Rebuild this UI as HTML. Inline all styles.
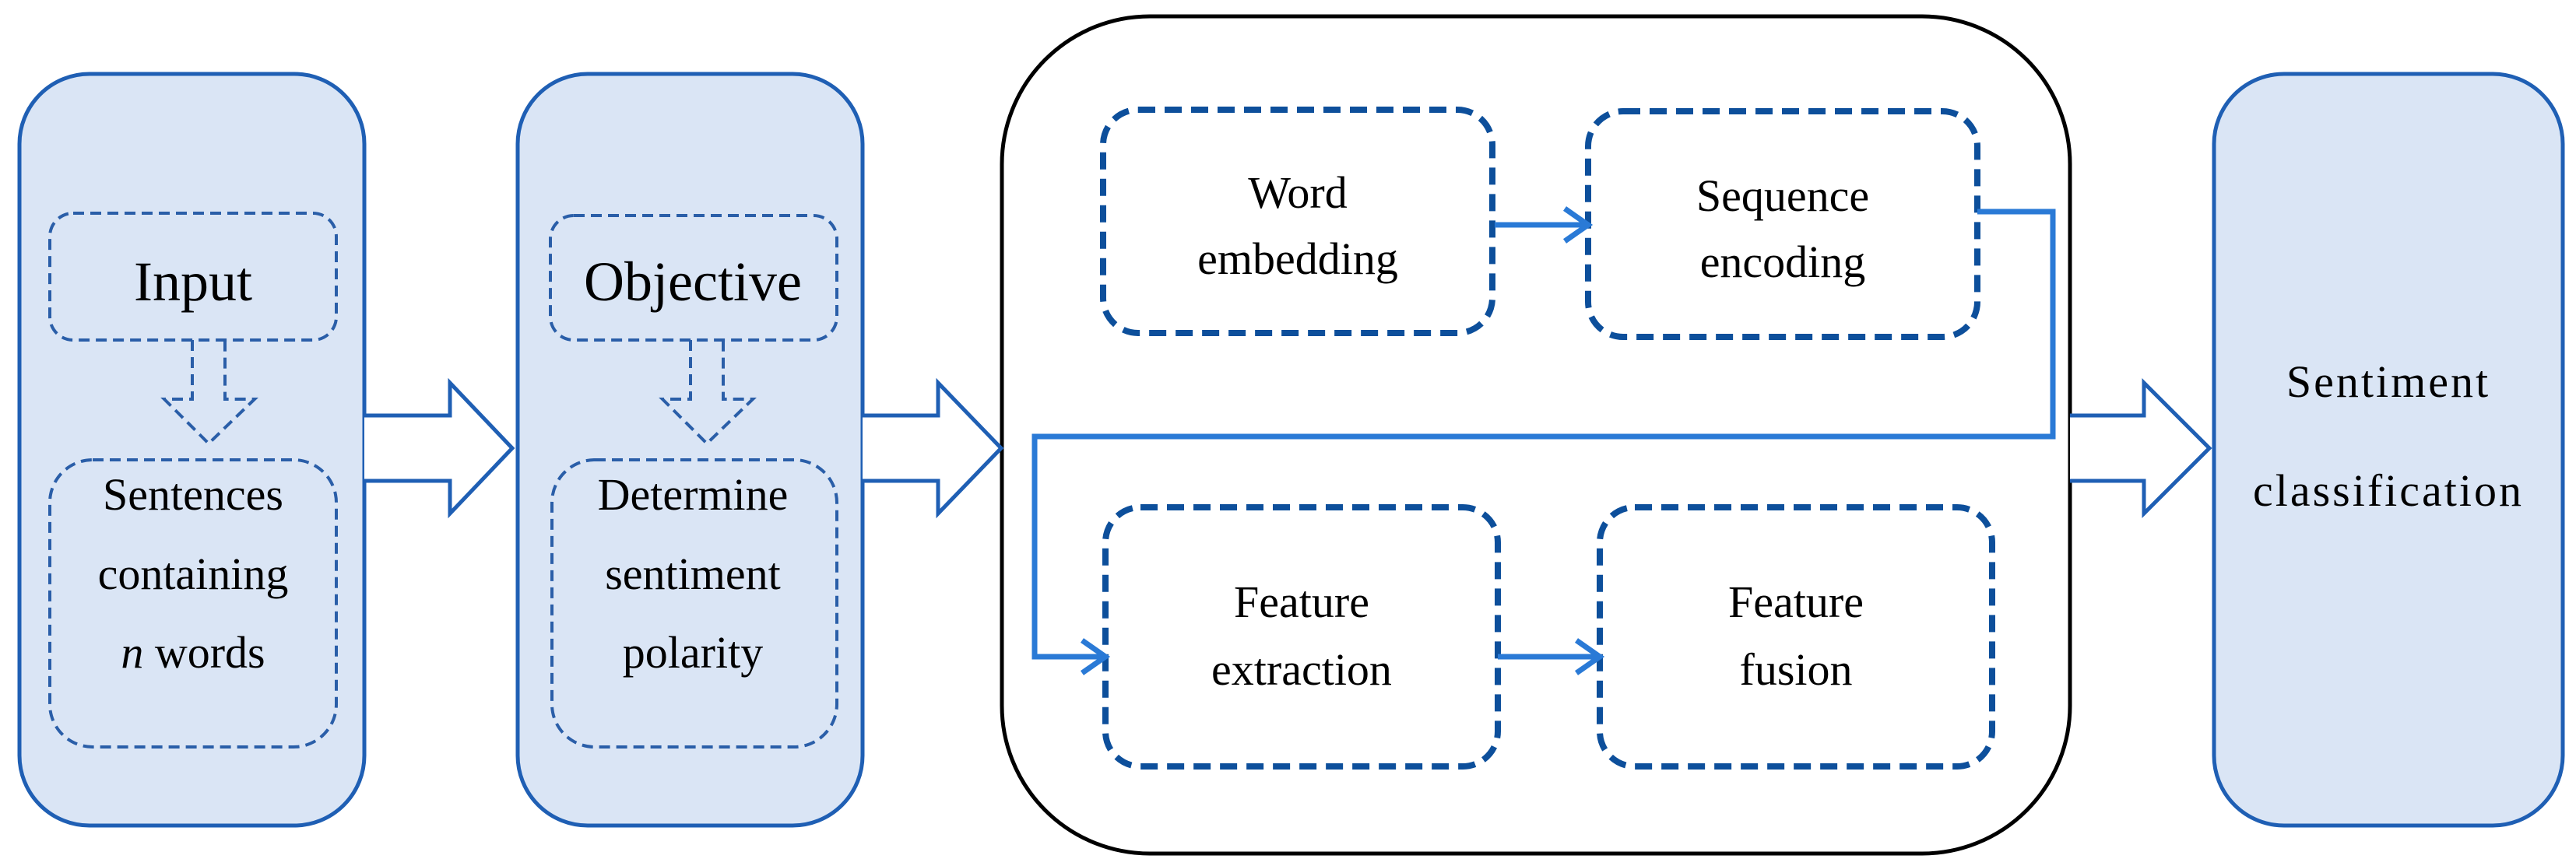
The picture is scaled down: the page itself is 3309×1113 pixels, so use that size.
<!DOCTYPE html>
<html><head><meta charset="utf-8"><style>
html,body{margin:0;padding:0;background:#fff}
svg{display:block}
text{font-family:"Liberation Serif","Times New Roman","DejaVu Serif",serif;fill:#000;text-anchor:middle}
</style></head><body>
<svg width="3309" height="1113" viewBox="0 0 3309 1113" xmlns="http://www.w3.org/2000/svg" font-family="Liberation Serif, Times New Roman, DejaVu Serif, serif">
<rect x="25" y="95" width="443" height="966" rx="90" fill="#dae5f5" stroke="#1f5fb4" stroke-width="5"/>
<rect x="665" y="95" width="443" height="966" rx="90" fill="#dae5f5" stroke="#1f5fb4" stroke-width="5"/>
<rect x="2844" y="95" width="448" height="966" rx="90" fill="#dae5f5" stroke="#1f5fb4" stroke-width="5"/>
<rect x="1287" y="21" width="1372" height="1076" rx="190" fill="#fff" stroke="#000" stroke-width="5"/>

<g fill="#fff" stroke="#1f5fb4" stroke-width="5">
<path d="M468 534 H578 V492 L658 576 L578 660 V618 H468"/>
<path d="M1108 534 H1205 V492 L1286 576 L1205 660 V618 H1108"/>
<path d="M2659 534 H2754 V492 L2838 576 L2754 660 V618 H2659"/>
</g>

<g fill="none" stroke="#2a5ea8" stroke-width="4" stroke-dasharray="14 8">
<rect x="64" y="274" width="368" height="163" rx="30"/>
<rect x="64" y="591" width="368" height="369" rx="55"/>
<rect x="707" y="277" width="368" height="160" rx="30"/>
<rect x="709" y="591" width="366" height="369" rx="55"/>
<path d="M247 437 V513 H211 L268 570 L327 513 H289 V437"/>
<path d="M887 437 V513 H851 L908 570 L967 513 H929 V437"/>
</g>

<g fill="#fff" stroke="#0d4f9b" stroke-width="8" stroke-dasharray="22 12">
<rect x="1417" y="141" width="500" height="287" rx="45"/>
<rect x="2040" y="143" width="500" height="290" rx="45"/>
<rect x="1420" y="652" width="504" height="333" rx="45"/>
<rect x="2055" y="652" width="504" height="333" rx="45"/>
</g>

<g fill="none" stroke="#2a7ad6" stroke-width="7">
<path d="M1920 289 H2040"/>
<path d="M2010 268 L2040 289 L2010 310"/>
<path d="M2540 272 H2637 V561 H1329 V844 H1420"/>
<path d="M1390 823 L1420 844 L1390 865"/>
<path d="M1924 844 H2055"/>
<path d="M2025 823 L2055 844 L2025 865"/>
</g>

<text x="248" y="386" font-size="72">Input</text>
<text x="248" y="655" font-size="58">Sentences</text>
<text x="248" y="757" font-size="58">containing</text>
<text x="248" y="858" font-size="58"><tspan font-style="italic">n</tspan>  words</text>
<text x="890" y="386" font-size="72">Objective</text>
<text x="890" y="655" font-size="58">Determine</text>
<text x="890" y="757" font-size="58">sentiment</text>
<text x="890" y="858" font-size="58">polarity</text>
<text x="1667" y="267" font-size="58">Word</text>
<text x="1667" y="352" font-size="58">embedding</text>
<text x="2290" y="271" font-size="58">Sequence</text>
<text x="2290" y="356" font-size="58">encoding</text>
<text x="1672" y="793" font-size="58">Feature</text>
<text x="1672" y="880" font-size="58">extraction</text>
<text x="2307" y="793" font-size="58">Feature</text>
<text x="2307" y="880" font-size="58">fusion</text>
<text x="3068" y="510" font-size="58" letter-spacing="3">Sentiment</text>
<text x="3068" y="650" font-size="58" letter-spacing="3">classification</text>
</svg>
</body></html>
